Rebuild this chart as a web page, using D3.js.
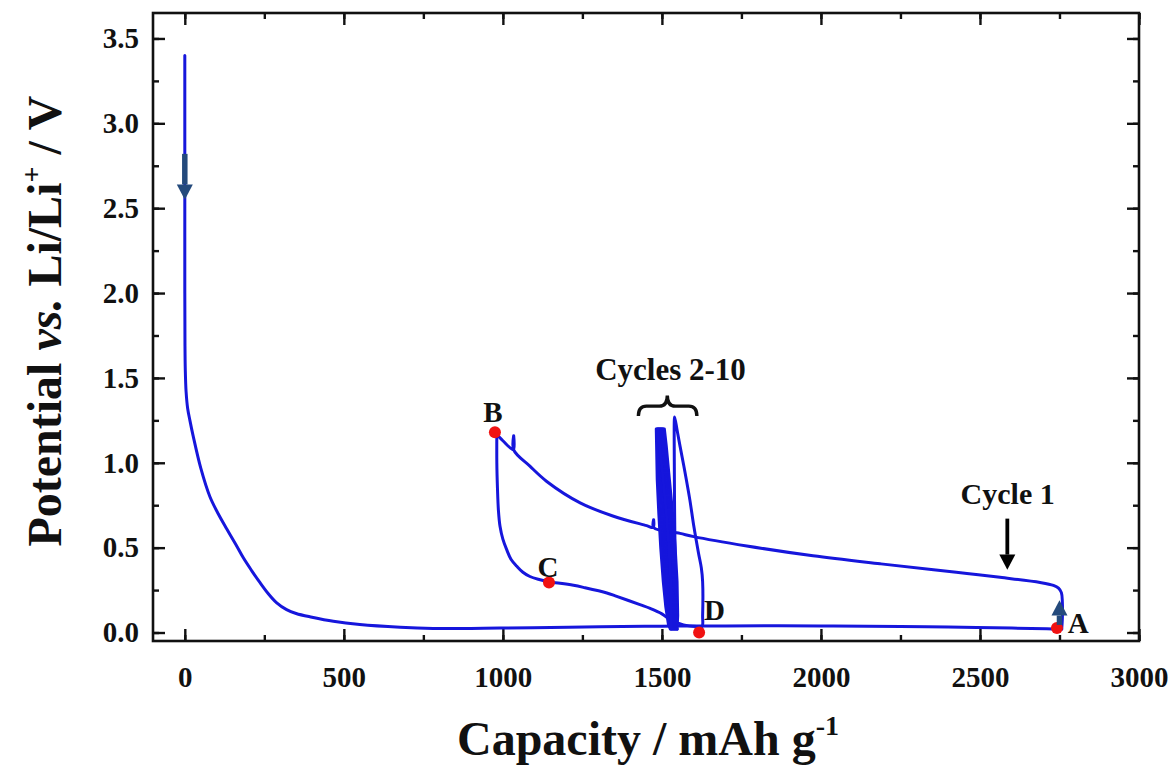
<!DOCTYPE html>
<html><head><meta charset="utf-8">
<script src="https://cdn.jsdelivr.net/npm/d3@7"></script>
<style>
html,body{margin:0;padding:0;background:#fff;}
svg{display:block;font-family:"Liberation Serif","Times New Roman",serif;font-weight:bold;}
</style></head>
<body><svg id="chart" width="1172" height="765"></svg>
<script>
// ---------- data ----------
const xTicks = [0, 500, 1000, 1500, 2000, 2500, 3000];
const yTicks = [0.0, 0.5, 1.0, 1.5, 2.0, 2.5, 3.0, 3.5];
const yTickLabels = ["0.0","0.5","1.0","1.5","2.0","2.5","3.0","3.5"];

const cycle1Discharge = [[0,3.40],[0,3.0],[0,2.5],[0,2.0],[0.5,1.7],[1.5,1.55],[4,1.42],[9,1.32],[16,1.25],[26,1.16],[50,0.97],[79,0.80],[105,0.70],[132,0.61],[160,0.52],[184,0.44],[210,0.365],[236,0.295],[262,0.23],[289,0.175],[320,0.135],[350,0.112],[400,0.09],[467,0.066],[550,0.047],[677,0.031],[781,0.024],[900,0.024],[991,0.026],[1150,0.03],[1306,0.034],[1500,0.037],[1700,0.039],[2000,0.039],[2250,0.035],[2400,0.032],[2600,0.026],[2710,0.022],[2745,0.02],[2757,0.02]];
const cycle1Charge = [[2757,0.02],[2759,0.08],[2759,0.18],[2756,0.235],[2747,0.262],[2731,0.278],[2689,0.295],[2563,0.325],[2459,0.348],[2354,0.37],[2186,0.405],[1975,0.452],[1767,0.51],[1600,0.565],[1557,0.584],[1474,0.618],[1474,0.665],[1473,0.619],[1452,0.63],[1348,0.685],[1243,0.764],[1138,0.89],[1085,0.98],[1034,1.076],[1034,1.16],[1033,1.078],[1000,1.13],[975,1.18]];
const cycle2 = [[981,1.18],[981,1.0],[983,0.85],[986,0.72],[991,0.626],[1000,0.55],[1012,0.488],[1026,0.43],[1044,0.39],[1063,0.355],[1085,0.33],[1117,0.311],[1145,0.298],[1180,0.29],[1222,0.278],[1253,0.266],[1327,0.233],[1358,0.213],[1431,0.164],[1463,0.142],[1500,0.11],[1526,0.075],[1568,0.045],[1610,0.035],[1626,0.035],[1628,0.1],[1628,0.30],[1624,0.38],[1615,0.469],[1600,0.63],[1588,0.78],[1572,0.95],[1557,1.098],[1548,1.19],[1540,1.27],[1539,1.25],[1539,1.0],[1540,0.7],[1542,0.4],[1544,0.15],[1546,0.03],[1548,0.02]];
const cycle3 = [[1548,0.02],[1550,0.1],[1548,0.3],[1542,0.5],[1534,0.7],[1524,0.9],[1514,1.1],[1508,1.2],[1504,1.2],[1505,1.1],[1507,0.9],[1512,0.7],[1518,0.5],[1526,0.3],[1534,0.15],[1540,0.05],[1545,0.02]];
const cycle4 = [[1545,0.02],[1547,0.1],[1545,0.3],[1539,0.5],[1531,0.7],[1521,0.9],[1510,1.1],[1504,1.2],[1500,1.2],[1501,1.1],[1503,0.9],[1508,0.7],[1514,0.5],[1522,0.3],[1530,0.15],[1537,0.05],[1542,0.02]];
const cycle5 = [[1542,0.02],[1544,0.1],[1542,0.3],[1536,0.5],[1528,0.7],[1518,0.9],[1507,1.1],[1501,1.2],[1497,1.2],[1498,1.1],[1500,0.9],[1505,0.7],[1511,0.5],[1519,0.3],[1527,0.15],[1534,0.05],[1539,0.02]];
const cycle6 = [[1539,0.02],[1541,0.1],[1539,0.3],[1533,0.5],[1525,0.7],[1515,0.9],[1504,1.1],[1498,1.2],[1494,1.2],[1495,1.1],[1497,0.9],[1502,0.7],[1508,0.5],[1516,0.3],[1524,0.15],[1531,0.05],[1536,0.02]];
const cycle7 = [[1536,0.02],[1538,0.1],[1536,0.3],[1530,0.5],[1522,0.7],[1512,0.9],[1501,1.1],[1495,1.2],[1491,1.2],[1492,1.1],[1494,0.9],[1499,0.7],[1505,0.5],[1513,0.3],[1521,0.15],[1528,0.05],[1533,0.02]];
const cycle8 = [[1533,0.02],[1535,0.1],[1533,0.3],[1527,0.5],[1519,0.7],[1509,0.9],[1498,1.1],[1492,1.2],[1488,1.2],[1489,1.1],[1491,0.9],[1496,0.7],[1502,0.5],[1510,0.3],[1518,0.15],[1525,0.05],[1530,0.02]];
const cycle9 = [[1530,0.02],[1532,0.1],[1530,0.3],[1524,0.5],[1516,0.7],[1506,0.9],[1495,1.1],[1489,1.2],[1485,1.2],[1486,1.1],[1488,0.9],[1493,0.7],[1499,0.5],[1507,0.3],[1515,0.15],[1522,0.05],[1528,0.02]];
const cycle10 = [[1528,0.02],[1530,0.1],[1528,0.3],[1522,0.5],[1514,0.7],[1504,0.9],[1493,1.1],[1487,1.2],[1482,1.2],[1483,1.1],[1485,0.9],[1490,0.7],[1496,0.5],[1504,0.3],[1512,0.15],[1520,0.05],[1526,0.02]];

const pointLabels = ["A","B","C","D"];
const pointCaps = [2742, 975, 1145, 1617];
const pointVolts = [0.026, 1.18, 0.295, 0.0];

// ---------- layout ----------
const svg = d3.select("#chart");
const x = d3.scaleLinear().domain([-100, 3000]).range([153, 1139]);
const y = d3.scaleLinear().domain([-0.05, 3.65]).range([641, 13]);
const BLUE = "#1616dc", ARROW = "#244a7c";
const FONT = '"Liberation Serif","Times New Roman",serif';

// axes (ticks inward, box)
const xMinor = d3.range(0, 3001, 250);
const yMinor = d3.range(0, 3.51, 0.25);
function axisG(axis, tr){ return svg.append("g").attr("transform", tr).call(axis).call(g=>g.select(".domain").remove()); }
axisG(d3.axisTop(x).tickValues(xMinor).tickSize(6).tickFormat(""), `translate(0,${y.range()[0]})`);
axisG(d3.axisTop(x).tickValues(xTicks).tickSize(12).tickFormat(""), `translate(0,${y.range()[0]})`);
axisG(d3.axisBottom(x).tickValues(xMinor).tickSize(6).tickFormat(""), `translate(0,${y.range()[1]})`);
axisG(d3.axisBottom(x).tickValues(xTicks).tickSize(12).tickFormat(""), `translate(0,${y.range()[1]})`);
axisG(d3.axisRight(y).tickValues(yMinor).tickSize(6).tickFormat(""), `translate(${x.range()[0]},0)`);
axisG(d3.axisRight(y).tickValues(yTicks).tickSize(12).tickFormat(""), `translate(${x.range()[0]},0)`);
axisG(d3.axisLeft(y).tickValues(yMinor).tickSize(6).tickFormat(""), `translate(${x.range()[1]},0)`);
axisG(d3.axisLeft(y).tickValues(yTicks).tickSize(12).tickFormat(""), `translate(${x.range()[1]},0)`);
svg.selectAll(".tick line").attr("stroke","#111").attr("stroke-width",2.4);

// tick labels via axis generators
const xl = axisG(d3.axisBottom(x).tickValues(xTicks).tickSize(0).tickPadding(25).tickFormat(d3.format("d")), `translate(0,${y.range()[0]})`);
xl.selectAll("text").attr("font-size",29).attr("font-family",FONT).attr("font-weight","bold").attr("fill","#111");
const yl = axisG(d3.axisLeft(y).tickValues(yTicks).tickSize(0).tickPadding(14).tickFormat((d,i)=>yTickLabels[i]), `translate(${x.range()[0]},0)`);
yl.selectAll("text").attr("font-size",29).attr("font-family",FONT).attr("font-weight","bold").attr("fill","#111");

svg.append("rect").attr("x",x.range()[0]).attr("y",y.range()[1])
  .attr("width",x.range()[1]-x.range()[0]).attr("height",y.range()[0]-y.range()[1])
  .attr("fill","none").attr("stroke","#111").attr("stroke-width",2.6);

// curves
const line = d3.line().x(d=>x(d[0])).y(d=>y(d[1])).curve(d3.curveCatmullRom.alpha(0.5));
const lineLin = d3.line().x(d=>x(d[0])).y(d=>y(d[1]));
const g = svg.append("g").attr("fill","none").attr("stroke",BLUE).attr("stroke-width",3).attr("stroke-linejoin","round").attr("stroke-linecap","round");
[cycle1Discharge, cycle1Charge, cycle2].forEach(s=>g.append("path").attr("d", line(s)));
[cycle3,cycle4,cycle5,cycle6,cycle7,cycle8,cycle9,cycle10].forEach(s=>g.append("path").attr("d", lineLin(s)).attr("stroke-width",2.8));

// red points
svg.append("g").selectAll("circle").data(pointCaps).join("circle")
  .attr("cx",(d)=>x(d)).attr("cy",(d,i)=>y(pointVolts[i])).attr("r",6).attr("fill","#f01212");

// point labels
const labelPos = [[2776,0.0,"start"],[969,1.238,"middle"],[1142,0.33,"middle"],[1632,0.075,"start"]];
svg.append("g").selectAll("text").data(pointLabels).join("text")
  .attr("x",(d,i)=>x(labelPos[i][0])).attr("y",(d,i)=>y(labelPos[i][1]))
  .attr("text-anchor",(d,i)=>labelPos[i][2]).attr("font-size",29).attr("fill","#111").text(d=>d);

// dark arrows
function arrow(cx, v0, vBase, vTip, color, shaftW, headW){
  const X = x(cx);
  svg.append("line").attr("x1",X).attr("x2",X).attr("y1",y(v0)).attr("y2",y(vBase))
    .attr("stroke",color).attr("stroke-width",shaftW);
  svg.append("path").attr("d",`M${X-headW/2},${y(vBase)} L${X+headW/2},${y(vBase)} L${X},${y(vTip)} Z`).attr("fill",color);
}
arrow(0, 2.82, 2.64, 2.55, ARROW, 5.5, 16);
arrow(2750, 0.045, 0.10, 0.19, ARROW, 5.5, 16);
arrow(2586, 0.671, 0.459, 0.37, "#000", 3.8, 16);

// annotations
svg.append("text").attr("x",x(1527)).attr("y",y(1.49)).attr("text-anchor","middle").attr("font-size",31).attr("fill","#111").text("Cycles 2-10");
svg.append("text").attr("x",x(2587)).attr("y",y(0.76)).attr("text-anchor","middle").attr("font-size",30).attr("fill","#111").text("Cycle 1");
// brace
const bx0=x(1426), bx1=x(1610), bxm=x(1517), byTop=y(1.397), byMid=y(1.334), byEnd=y(1.275);
svg.append("path").attr("d",
 `M${bx0},${byEnd} Q${bx0},${byMid} ${bx0+8},${byMid} L${bxm-8},${byMid} Q${bxm},${byMid} ${bxm},${byTop} Q${bxm},${byMid} ${bxm+8},${byMid} L${bx1-8},${byMid} Q${bx1},${byMid} ${bx1},${byEnd}`)
 .attr("fill","none").attr("stroke","#111").attr("stroke-width",3.4);

// axis titles
const xt = svg.append("text").attr("x",(x.range()[0]+x.range()[1])/2+2).attr("y",755).attr("text-anchor","middle").attr("font-size",48).attr("fill","#111");
xt.append("tspan").text("Capacity / mAh g");
xt.append("tspan").attr("dy",-20).attr("font-size",28).text("-1");

const yt = svg.append("text").attr("transform",`translate(61,${(y.range()[0]+y.range()[1])/2 - 6}) rotate(-90)`).attr("text-anchor","middle").attr("font-size",48).attr("fill","#111");
yt.append("tspan").text("Potential ");
yt.append("tspan").attr("font-style","italic").text("vs.");
yt.append("tspan").text(" Li/Li");
yt.append("tspan").attr("dy",-20).attr("font-size",28).text("+");
yt.append("tspan").attr("dy",20).text(" / V");
</script></body></html>
